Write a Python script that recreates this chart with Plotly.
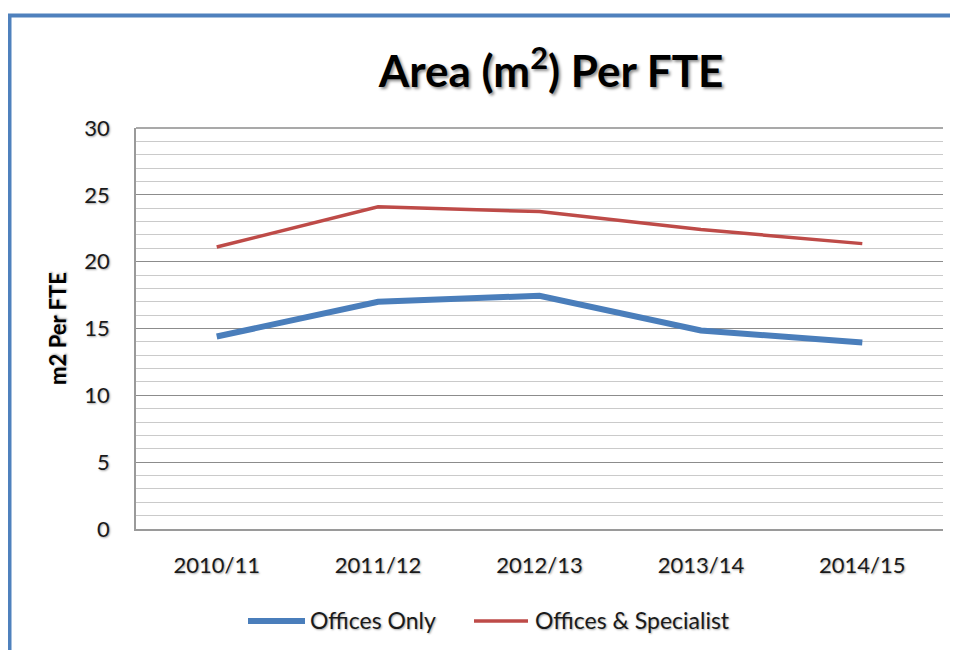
import plotly.graph_objects as go

categories = ["2010/11", "2011/12", "2012/13", "2013/14", "2014/15"]
offices_only = [14.4, 17.0, 17.45, 14.85, 13.95]
offices_specialist = [21.1, 24.1, 23.75, 22.4, 21.35]
y_ticks = [0, 5, 10, 15, 20, 25, 30]
series_names = ["Offices Only", "Offices & Specialist"]
series_colors = ["#4A7EBB", "#BE4B48"]
series_widths = [6, 3.5]

# page is offset by the 8px body margin
OFF = 8
W, H = 958, 650
L, R, T, B = 136 - OFF, 943 - OFF, 128 - OFF, 529 - OFF

def px(x):
    return (x - OFF - L) / (R - L)

def py(y):
    return (B - (y - OFF)) / (B - T)

FONT = "Lato"
SHADOW = "1px 1px 2px rgba(0,0,0,0.35)"

fig = go.Figure()
for vals, name, col, wd in zip([offices_only, offices_specialist], series_names, series_colors, series_widths):
    fig.add_trace(go.Scatter(x=categories, y=vals, mode="lines", name=name,
                             line=dict(color=col, width=wd), showlegend=False))

fig.update_layout(
    width=W, height=H,
    margin=dict(l=L, r=W - R, t=T, b=H - B),
    paper_bgcolor="white", plot_bgcolor="white",
    font=dict(family=FONT, color="#1a1a1a"),
    title=dict(text="<b>Area (m<sup>2</sup>) Per FTE</b>", xref="container", yref="container",
               x=(551 - OFF) / W, xanchor="center",
               y=1 - (72 - OFF) / H, yanchor="middle",
               font=dict(size=44, family=FONT, color="black", shadow="2px 2px 3px rgba(0,0,0,0.45)")),
    xaxis=dict(type="category", range=[-0.5, 4.5], showgrid=False, showline=True,
               linecolor="#9a9a9a", linewidth=1.5, ticks="",
               tickfont=dict(size=22, family=FONT, shadow=SHADOW), ticklabelstandoff=16,
               fixedrange=True),
    yaxis=dict(range=[0, 30], tickvals=y_ticks, showline=True, linecolor="#9a9a9a", linewidth=1.5,
               gridcolor="#8c8c8c", gridwidth=1.2, zeroline=False, ticks="",
               tickfont=dict(size=22, family=FONT, shadow=SHADOW), ticklabelstandoff=20,
               minor=dict(dtick=1, showgrid=True, gridcolor="#cacaca", gridwidth=1.2),
               title=dict(text="<b>m2 Per FTE</b>", standoff=12,
                          font=dict(size=22, family=FONT, color="black", shadow=SHADOW)),
               fixedrange=True),
    showlegend=False,
)

# legend drawn manually (Excel-style long swatches)
legend_line_x = [(248, 305), (474, 528)]
legend_text_x = [308, 533]
for (x0, x1), tx, name, col, wd in zip(legend_line_x, legend_text_x, series_names, series_colors, series_widths):
    fig.add_shape(type="line", xref="paper", yref="paper", x0=px(x0), x1=px(x1),
                  y0=py(621), y1=py(621), line=dict(color=col, width=wd))
    fig.add_annotation(xref="paper", yref="paper", x=px(tx), y=py(620), xanchor="left", yanchor="middle",
                       text=name, showarrow=False,
                       font=dict(size=23, family=FONT, color="#1a1a1a", shadow=SHADOW))

fig.add_shape(type="line", xref="paper", yref="paper", x0=0, x1=1, y0=1, y1=1,
              line=dict(color="#8c8c8c", width=1.5))

fig.add_shape(type="rect", xref="paper", yref="paper",
              x0=px(9.5), x1=px(990), y0=py(15.5), y1=py(700),
              line=dict(color="#4F81BD", width=4), fillcolor="rgba(0,0,0,0)", layer="above")

fig.write_html("out.html")
